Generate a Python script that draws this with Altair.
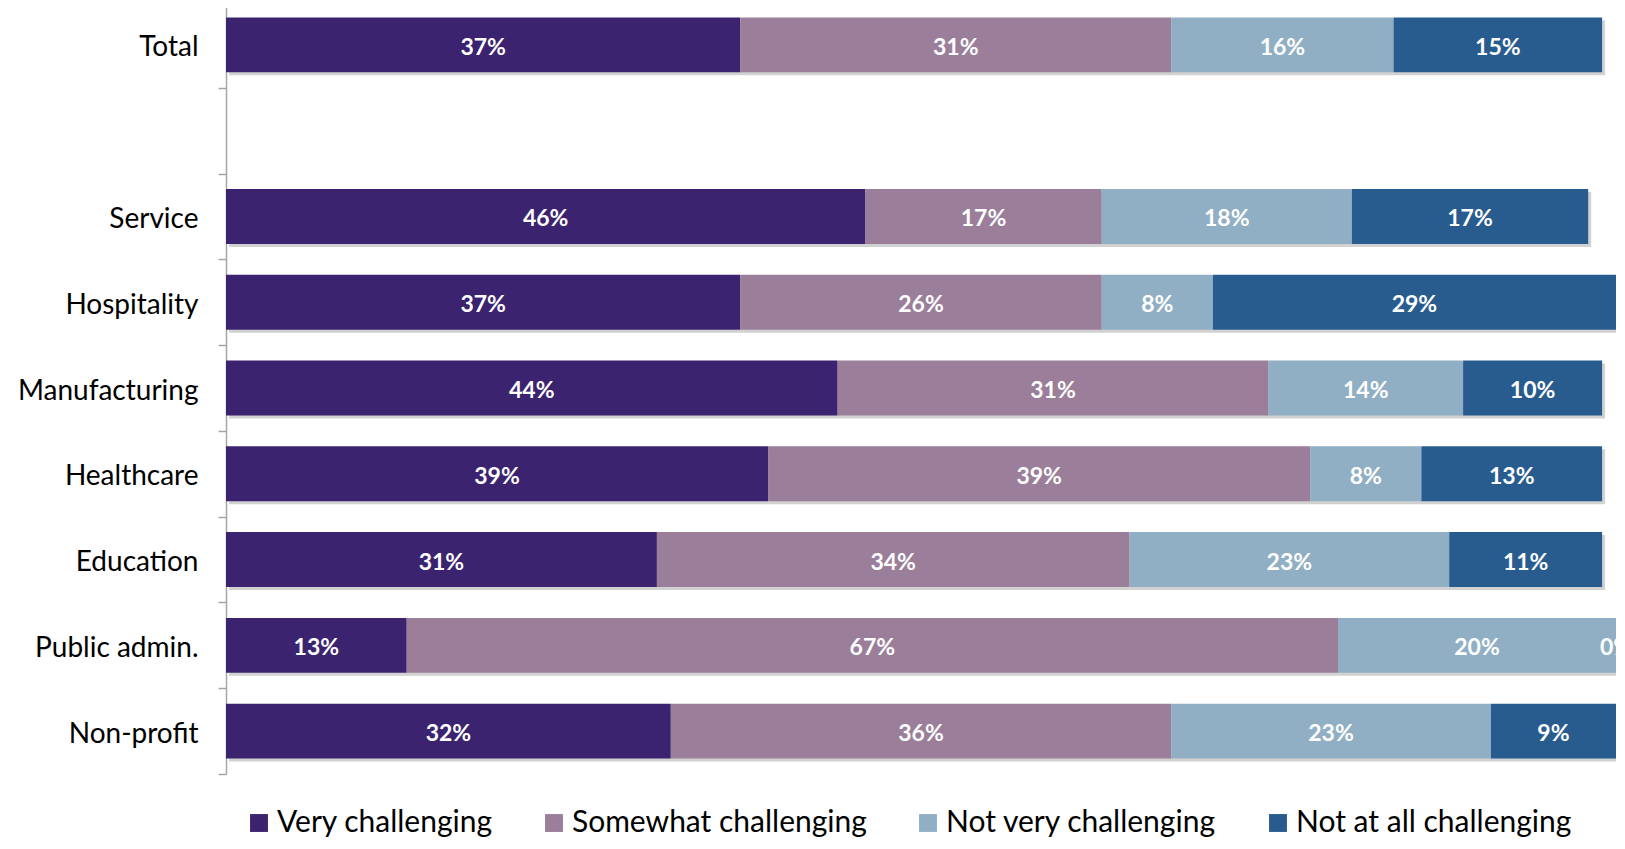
import altair as alt
import pandas as pd

categories = ["Total", " ", "Service", "Hospitality", "Manufacturing",
              "Healthcare", "Education", "Public admin.", "Non-profit"]
rows = ["Total", "Service", "Hospitality", "Manufacturing",
        "Healthcare", "Education", "Public admin.", "Non-profit"]
series = ["Very challenging", "Somewhat challenging",
          "Not very challenging", "Not at all challenging"]
very = [37, 46, 37, 44, 39, 31, 13, 32]
somewhat = [31, 17, 26, 31, 39, 34, 67, 36]
not_very = [16, 18, 8, 14, 8, 23, 20, 23]
not_at_all = [15, 17, 29, 10, 13, 11, 0, 9]
colors = ["#3B2370", "#9A7E9A", "#91AFC4", "#285C8E"]

recs = []
for i, r in enumerate(rows):
    for j, (s, vals) in enumerate(zip(series, [very, somewhat, not_very, not_at_all])):
        recs.append({"cat": r, "series": s, "order": j, "value": vals[i],
                     "label": f"{vals[i]}%"})
df = pd.DataFrame(recs)

FONT = "Lato"
yscale = alt.Scale(domain=categories, paddingInner=0, paddingOuter=0)
xscale = alt.Scale(domain=[0, 100], nice=False, zero=True)

yenc = alt.Y("cat:N", scale=yscale, sort=categories, title=None,
             axis=alt.Axis(domainColor="#A6A6A6", domainWidth=1.5,
                           tickColor="#A6A6A6", tickWidth=1.5, tickSize=8,
                           tickBand="extent", labelFontSize=28, labelFont=FONT,
                           labelColor="#000000", labelPadding=20, labelLimit=400,
                           labelOffset=3, grid=False))

shadow = alt.Chart(df).transform_aggregate(
    total="sum(value)", groupby=["cat"]
).mark_bar(color="#9a9a9a", opacity=0.45, xOffset=3, yOffset=3,
           height={"band": 0.64}).encode(
    x=alt.X("total:Q", scale=xscale, axis=None),
    y=yenc,
)

bars = alt.Chart(df).mark_bar(height={"band": 0.64}).encode(
    x=alt.X("value:Q", scale=xscale, axis=None, stack="zero"),
    y=yenc,
    color=alt.Color("series:N", sort=series,
                    scale=alt.Scale(domain=series, range=colors),
                    legend=alt.Legend(title=None, orient="none", direction="horizontal",
                                      legendX=18, legendY=806,
                                      symbolType="square", symbolSize=320,
                                      symbolStrokeWidth=0, symbolOpacity=1,
                                      labelFontSize=30, labelFont=FONT,
                                      labelColor="#000000", labelOffset=3,
                                      columnPadding=46, labelLimit=400)),
    order=alt.Order("order:Q"),
)

texts = alt.Chart(df).transform_stack(
    stack="value", groupby=["cat"], as_=["x0", "x1"],
    sort=[alt.SortField("order", order="ascending")]
).transform_calculate(
    mid="(datum.x0 + datum.x1) / 2"
).mark_text(color="white", fontWeight="bold", fontSize=23, font=FONT, dy=3).encode(
    x=alt.X("mid:Q", scale=xscale, axis=None),
    y=yenc,
    text="label:N",
)

chart = alt.layer(shadow, bars, texts).properties(
    width=1390, height=772,
    autosize=alt.AutoSizeParams(type="none"),
    padding={"left": 218, "top": -6, "right": 0, "bottom": 67},
).configure_view(stroke=None)

chart.save("out.html", embed_options={"renderer": "svg", "actions": False})
